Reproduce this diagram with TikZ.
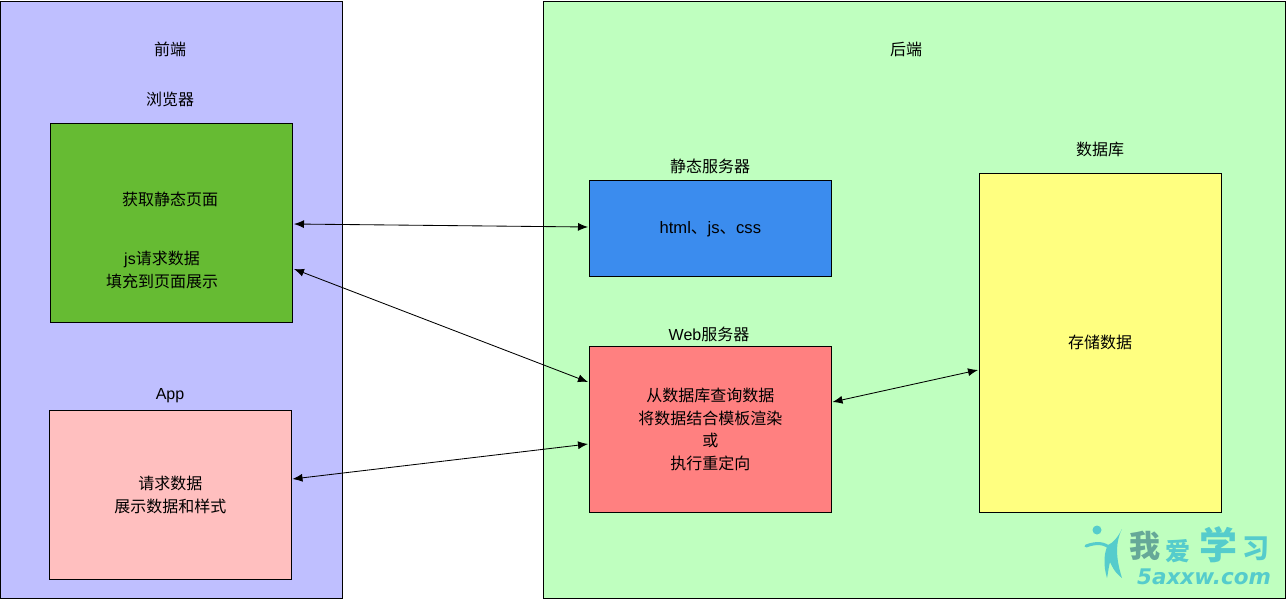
\documentclass[tikz,border=0pt]{standalone}
\usepackage{fontspec}
\setmainfont{Liberation Sans}
\newfontfamily\cj{Noto Sans CJK SC}
\usetikzlibrary{arrows.meta}
\definecolor{fe}{HTML}{BFBFFF}
\definecolor{be}{HTML}{BFFFBF}
\definecolor{gr}{HTML}{66BB33}
\definecolor{bl}{HTML}{3B8CEE}
\definecolor{rd}{HTML}{FF8080}
\definecolor{pk}{HTML}{FFBFBF}
\definecolor{yl}{HTML}{FFFF80}
\definecolor{wa}{HTML}{55CCCC}
\definecolor{wb}{HTML}{66A898}
\tikzset{
  x=1pt,y=-1pt,
  panel/.style={draw=black,line width=0.9pt,anchor=north west,inner sep=0pt},
  lbl/.style={font=\fontsize{16}{22.5}\selectfont,text=black,align=center,inner sep=0pt},
  link/.style={draw=black,line width=0.85pt,{Latex[length=10pt,width=8pt]}-{Latex[length=10pt,width=8pt]}},
  wmark/.style={inner sep=0pt,text=#1},
}
\newcommand{\boxat}[8][-0.3pt]{\node[panel,fill=#7,minimum width=#5pt,minimum height=#6pt] (#2) at (#3,#4) {};\node[lbl] at ([yshift=#1]#2.center) {#8};}
\begin{document}
\begin{tikzpicture}
\useasboundingbox (0,0) rectangle (1286,598);
\boxat{front}{-0.5}{0.5}{342.5}{597}{fe}{}
\boxat{back}{542.8}{1}{741.7}{597}{be}{}
\boxat{green}{49.8}{122.8}{242.2}{199.2}{gr}{}
\boxat{pink}{48.8}{409.8}{242.2}{169.2}{pk}{\cj 请求数据\\\cj 展示数据和样式}
\boxat[-1.3pt]{blue}{588.8}{179.8}{242.2}{96.2}{bl}{\fontsize{16.6}{22.5}\selectfont html{\cj 、}js{\cj 、}css}
\boxat{red}{588.8}{345.8}{242.2}{166.2}{rd}{\cj 从数据库查询数据\\\cj 将数据结合模板渲染\\\cj 或\\\cj 执行重定向}
\boxat{yellow}{978.8}{172.8}{242.2}{339.2}{yl}{}
\node[lbl] (t1) at (170,49) {\cj 前端};
\node[lbl] (t2) at (170,99) {\cj 浏览器};
\node[lbl] (t3) at (170,199) {\cj 获取静态页面};
\node[lbl] (t4) at (162,270) {js{\cj 请求数据}\\\cj 填充到页面展示};
\node[lbl] (t5) at (170,395.3) {App};
\node[lbl] (t6) at (906,49) {\cj 后端};
\node[lbl] (t7) at (710,166) {\cj 静态服务器};
\node[lbl] (t8) at (709,334) {Web{\cj 服务器}};
\node[lbl] (t9) at (1100,149) {\cj 数据库};
\node[lbl] (t10) at (1100,342) {\cj 存储数据};
\coordinate (a1) at (294,224);
\coordinate (a2) at (588,227);
\coordinate (b1) at (294,269);
\coordinate (b2) at (588,382);
\coordinate (c1) at (292.5,479);
\coordinate (c2) at (588,444);
\coordinate (d1) at (832.5,402);
\coordinate (d2) at (978,370);
\draw[link] (a1) -- (a2);
\draw[link] (b1) -- (b2);
\draw[link] (c1) -- (c2);
\draw[link] (d1) -- (d2);
% watermark
\fill[wa] (1097,530) circle (4.5);
\draw[wa,line width=3pt,line cap=round] (1086,546) .. controls (1097,542) and (1104,543) .. (1110,548);
\fill[wa] (1122,529) .. controls (1114,545) and (1117,562) .. (1122,578) .. controls (1114,572) and (1112,566) .. (1110,562) .. controls (1108,570) and (1108,574) .. (1107,578) .. controls (1103,565) and (1104,552) .. (1108,545) .. controls (1113,543) and (1118,537) .. (1122,529) -- cycle;
\node[wmark=wb,font=\cj\bfseries\fontsize{31}{31}\selectfont] (w1) at (1145,546) {我};
\node[wmark=wa,font=\cj\bfseries\fontsize{25}{25}\selectfont] (w2) at (1178,551) {爱};
\node[wmark=wa,font=\cj\bfseries\fontsize{38}{38}\selectfont] (w3) at (1218,545) {学};
\node[wmark=wa,font=\cj\bfseries\fontsize{27}{27}\selectfont] (w4) at (1256,549) {习};
\node[wmark=wa,font=\fontspec{DejaVu Sans}\bfseries\itshape\fontsize{21.5}{21.5}\selectfont] (w5) at (1204,577) {5axxw.com};
\end{tikzpicture}
\end{document}
